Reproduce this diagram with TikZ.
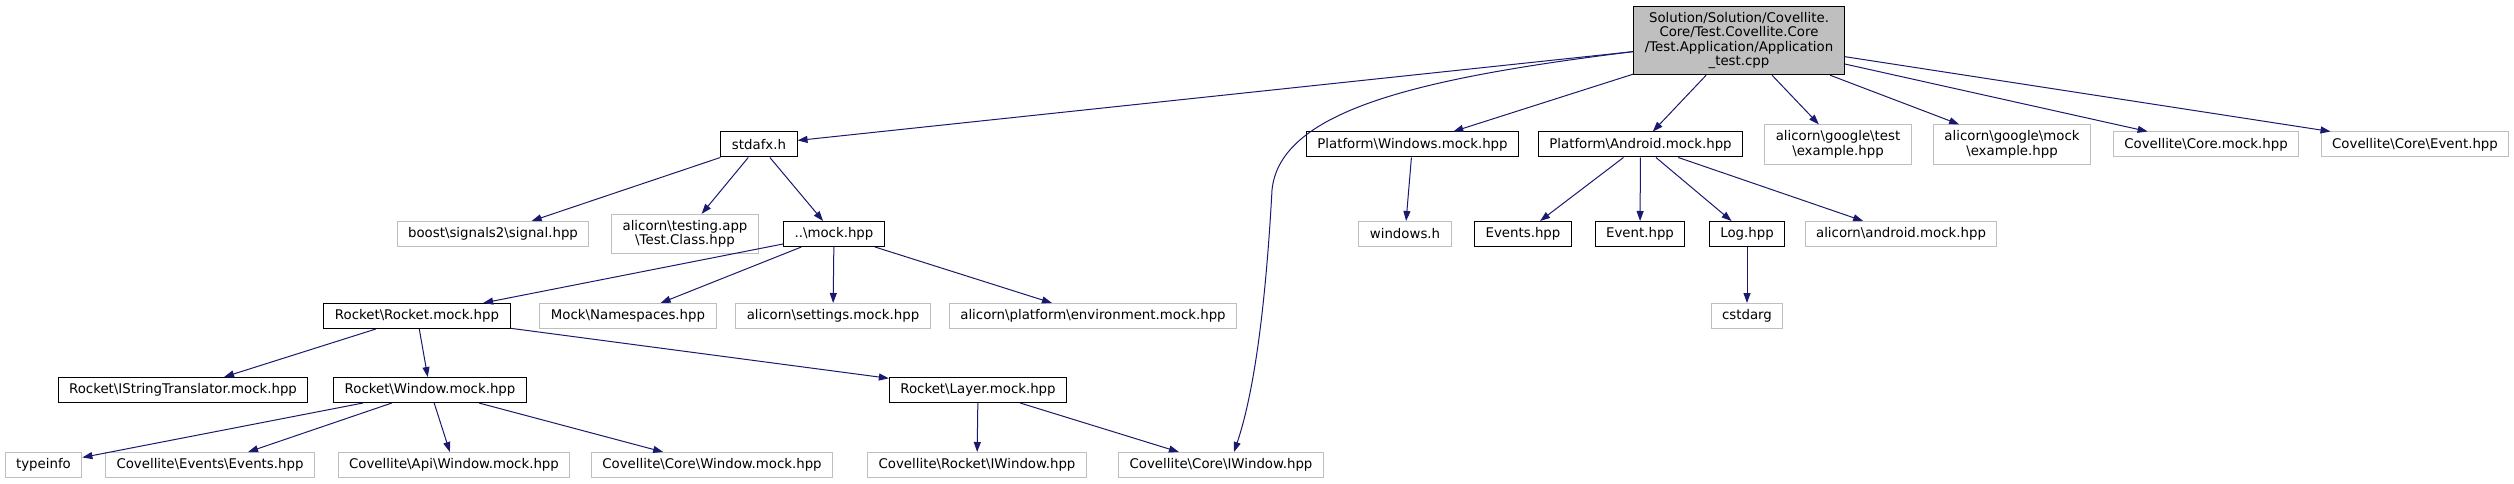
\documentclass[tikz,border=0pt]{standalone}
\usepackage{fontspec}
\setmainfont{DejaVu Sans}
\usetikzlibrary{arrows.meta}
\definecolor{edgecol}{HTML}{191970}
\definecolor{rootfill}{HTML}{BFBFBF}
\definecolor{grayline}{HTML}{BFBFBF}
\newcommand{\bks}{\textbackslash}
\begin{document}
\begin{tikzpicture}[x=1pt,y=-1pt,
  box/.style={font=\fontsize{13.33}{14.4}\selectfont, inner xsep=11pt, inner ysep=6pt,
    minimum height=25pt, align=center, fill=white, line width=1pt},
  solidbox/.style={box, draw=black},
  graybox/.style={box, draw=grayline},
  rootbox/.style={box, draw=black, fill=rootfill},
  inc/.style={draw=edgecol, line width=1pt, -{Triangle[length=10pt,width=7pt]}}]
\fill[white] (0,0) rectangle (2514,484);
% rank 0
\node[rootbox] (root) at (1739,40.5) {Solution/Solution/Covellite.\\Core/Test.Covellite.Core\\/Test.Application/Application\\\_test.cpp};
% rank 1
\node[solidbox] (stdafx) at (759,144.5) {stdafx.h};
\node[solidbox] (winmock) at (1412.5,144.5) {Platform\bks Windows.mock.hpp};
\node[solidbox] (andmock) at (1640.5,144.5) {Platform\bks Android.mock.hpp};
\node[graybox] (gtest) at (1838,144.5) {alicorn\bks google\bks test\\\bks example.hpp};
\node[graybox] (gmock) at (2012,144.5) {alicorn\bks google\bks mock\\\bks example.hpp};
\node[graybox] (coremock) at (2206,144.5) {Covellite\bks Core.mock.hpp};
\node[graybox] (coreevent) at (2415,144.5) {Covellite\bks Core\bks Event.hpp};
% rank 2
\node[graybox] (boost) at (493,234) {boost\bks signals2\bks signal.hpp};
\node[graybox] (testing) at (685,234) {alicorn\bks testing.app\\\bks Test.Class.hpp};
\node[solidbox] (mock) at (834,234) {..\bks mock.hpp};
\node[graybox] (windowsh) at (1405,234) {windows.h};
\node[solidbox] (events) at (1523,234) {Events.hpp};
\node[solidbox] (event) at (1640,234) {Event.hpp};
\node[solidbox] (log) at (1747,234) {Log.hpp};
\node[graybox] (andr) at (1901,234) {alicorn\bks android.mock.hpp};
% rank 3
\node[solidbox] (rocket) at (417,316) {Rocket\bks Rocket.mock.hpp};
\node[graybox] (ns) at (628,316) {Mock\bks Namespaces.hpp};
\node[graybox] (settings) at (833,316) {alicorn\bks settings.mock.hpp};
\node[graybox] (env) at (1093,316) {alicorn\bks platform\bks environment.mock.hpp};
\node[graybox] (cstdarg) at (1747,316) {cstdarg};
% rank 4
\node[solidbox] (istr) at (183,390) {Rocket\bks IStringTranslator.mock.hpp};
\node[solidbox] (rwin) at (430,390) {Rocket\bks Window.mock.hpp};
\node[solidbox] (layer) at (978,390) {Rocket\bks Layer.mock.hpp};
% rank 5
\node[graybox] (typeinfo) at (43.5,465) {typeinfo};
\node[graybox] (evev) at (210,465) {Covellite\bks Events\bks Events.hpp};
\node[graybox] (apiwin) at (454,465) {Covellite\bks Api\bks Window.mock.hpp};
\node[graybox] (corewin) at (712,465) {Covellite\bks Core\bks Window.mock.hpp};
\node[graybox] (riwin) at (977,465) {Covellite\bks Rocket\bks IWindow.hpp};
\node[graybox] (cwin) at (1221,465) {Covellite\bks Core\bks IWindow.hpp};
% edges
\draw[inc] (root) -- (stdafx);
\draw[inc] (root) -- (winmock);
\draw[inc] (root) -- (andmock);
\draw[inc] (root) -- (gtest);
\draw[inc] (root) -- (gmock);
\draw[inc] (root) -- (coremock);
\draw[inc] (root) -- (coreevent);
\draw[inc] (root.186) .. controls (1420,78) and (1280,110) .. (1272,190)
   .. controls (1266,300) and (1255,390) .. ([xshift=13pt]cwin.north);
\draw[inc] (stdafx) -- (boost);
\draw[inc] (stdafx) -- (testing);
\draw[inc] (stdafx) -- (mock);
\draw[inc] (mock) -- (rocket);
\draw[inc] (mock) -- (ns);
\draw[inc] (mock) -- (settings);
\draw[inc] (mock) -- (env);
\draw[inc] (rocket) -- (istr);
\draw[inc] (rocket) -- (rwin);
\draw[inc] (rocket) -- (layer);
\draw[inc] (rwin) -- (typeinfo);
\draw[inc] (rwin) -- (evev);
\draw[inc] (rwin) -- (apiwin);
\draw[inc] (rwin) -- (corewin);
\draw[inc] (layer) -- (riwin);
\draw[inc] (layer) -- (cwin);
\draw[inc] (winmock) -- (windowsh);
\draw[inc] (andmock) -- (events);
\draw[inc] (andmock) -- (event);
\draw[inc] (andmock) -- (log);
\draw[inc] (andmock) -- (andr);
\draw[inc] (log) -- (cstdarg);
\end{tikzpicture}
\end{document}
